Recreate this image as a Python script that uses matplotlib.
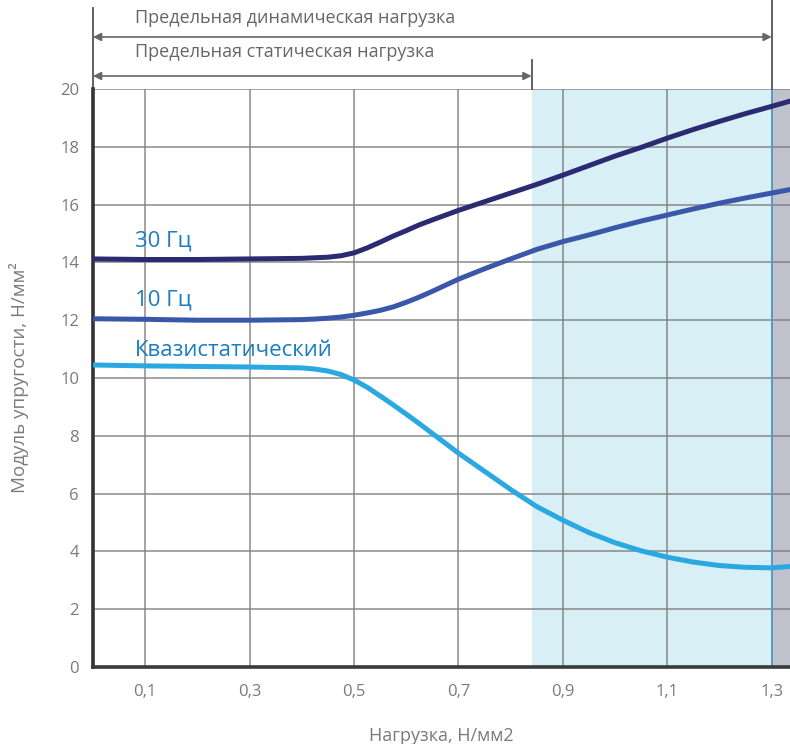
import matplotlib
matplotlib.use('Agg')
import matplotlib.pyplot as plt

plt.rcParams['font.family'] = ['Open Sans', 'DejaVu Sans']

# данные
load = [0, 0.1, 0.2, 0.3, 0.4, 0.425, 0.45, 0.475, 0.5, 0.525, 0.55, 0.575,
        0.6, 0.625, 0.65, 0.7, 0.75, 0.8, 0.85, 0.9, 0.95, 1.0, 1.05, 1.1,
        1.15, 1.2, 1.25, 1.3, 1.335]
hz30 = [14.12, 14.1, 14.1, 14.12, 14.14, 14.16, 14.18, 14.23, 14.33, 14.5,
        14.7, 14.91, 15.1, 15.3, 15.47, 15.8, 16.1, 16.4, 16.7, 17.02,
        17.35, 17.68, 17.98, 18.3, 18.6, 18.88, 19.15, 19.4, 19.58]
hz10 = [12.05, 12.03, 12.0, 12.0, 12.02, 12.04, 12.07, 12.11, 12.17, 12.25,
        12.34, 12.46, 12.62, 12.8, 13.0, 13.42, 13.78, 14.12, 14.45, 14.72,
        14.95, 15.2, 15.43, 15.64, 15.85, 16.05, 16.23, 16.4, 16.52]
quasi = [10.45, 10.42, 10.4, 10.38, 10.35, 10.31, 10.24, 10.12, 9.93, 9.68,
         9.38, 9.07, 8.75, 8.42, 8.08, 7.4, 6.77, 6.14, 5.55, 5.08, 4.65,
         4.3, 4.02, 3.8, 3.63, 3.51, 3.45, 3.43, 3.48]

x_ticks = [0.1, 0.3, 0.5, 0.7, 0.9, 1.1, 1.3]
x_labels = ['0,1', '0,3', '0,5', '0,7', '0,9', '1,1', '1,3']
y_ticks = list(range(0, 21, 2))

static_lim = 0.84
dynamic_lim = 1.3

C_LBL = '#1b7cc2'
C_GRAY = '#7a7a7a'

fig = plt.figure(figsize=(7.9, 7.44), dpi=100, facecolor='white')
ax = fig.add_axes([93 / 790, 77 / 744, 697 / 790, 578 / 744])
ax.set_xlim(0, 1.335)
ax.set_ylim(0, 20)

# зоны
ax.axvspan(static_lim, dynamic_lim, color='#d7eff5', zorder=0, lw=0)
ax.axvspan(dynamic_lim, 1.335, color='#bfc1cc', zorder=0, lw=0)

# сетка
for xv in x_ticks:
    ax.axvline(xv, color='#808080', lw=1.2, alpha=0.85, zorder=1)
for yv in y_ticks[1:]:
    ax.axhline(yv, color='#808080', lw=1.2, alpha=0.85, zorder=1)
ax.axvline(dynamic_lim, color='#5a9cc4', lw=1.4, zorder=1)

# кривые
ax.plot(load, hz30, color='#2b2a72', lw=3.6, solid_joinstyle='round', zorder=3)
ax.plot(load, hz10, color='#3b57a9', lw=3.6, solid_joinstyle='round', zorder=3)
ax.plot(load, quasi, color='#29a8e1', lw=3.6, solid_joinstyle='round', zorder=3)

ax.text(0.08, 14.55, '30 Гц', fontsize=16, color=C_LBL, zorder=4)
ax.text(0.08, 12.5, '10 Гц', fontsize=16, color=C_LBL, zorder=4)
ax.text(0.08, 10.75, 'Квазистатический', fontsize=16, color=C_LBL, zorder=4)

# оси
ax.set_xticks(x_ticks)
ax.set_xticklabels(x_labels)
ax.set_yticks(y_ticks)
ax.tick_params(length=0, labelsize=12, colors=C_GRAY, pad=12)
ax.tick_params(axis='y', pad=10)
for s in ['top', 'right']:
    ax.spines[s].set_visible(False)
ax.spines['left'].set_color('#333333')
ax.spines['left'].set_linewidth(2.6)
ax.spines['bottom'].set_color('#3a3a3a')
ax.spines['bottom'].set_linewidth(2.6)

ax.set_xlabel('Нагрузка, Н/мм2', fontsize=13, color=C_GRAY, labelpad=20)
ax.set_ylabel('Модуль упругости, Н/мм²', fontsize=13.5, color=C_GRAY, labelpad=22)

# предельные нагрузки сверху
ax.plot([0, 0], [20, 22.8], color='#555555', lw=1.3, clip_on=False)
ax.plot([static_lim, static_lim], [20, 21.0], color='#555555', lw=1.3, clip_on=False)
ax.plot([dynamic_lim, dynamic_lim], [20, 23.1], color='#555555', lw=1.3, clip_on=False)

arrow = dict(arrowstyle='<|-|>', color='#666666', lw=1.2, mutation_scale=12,
             shrinkA=0, shrinkB=0)
ax.annotate('', xy=(0, 21.8), xytext=(dynamic_lim, 21.8), arrowprops=arrow,
            annotation_clip=False)
ax.annotate('', xy=(0, 20.45), xytext=(static_lim, 20.45), arrowprops=arrow,
            annotation_clip=False)
ax.text(0.08, 22.45, 'Предельная динамическая нагрузка', fontsize=13,
        color='#666666', va='center', clip_on=False)
ax.text(0.08, 21.27, 'Предельная статическая нагрузка', fontsize=13,
        color='#666666', va='center', clip_on=False)

fig.savefig('out.png', dpi=100, facecolor='white')
